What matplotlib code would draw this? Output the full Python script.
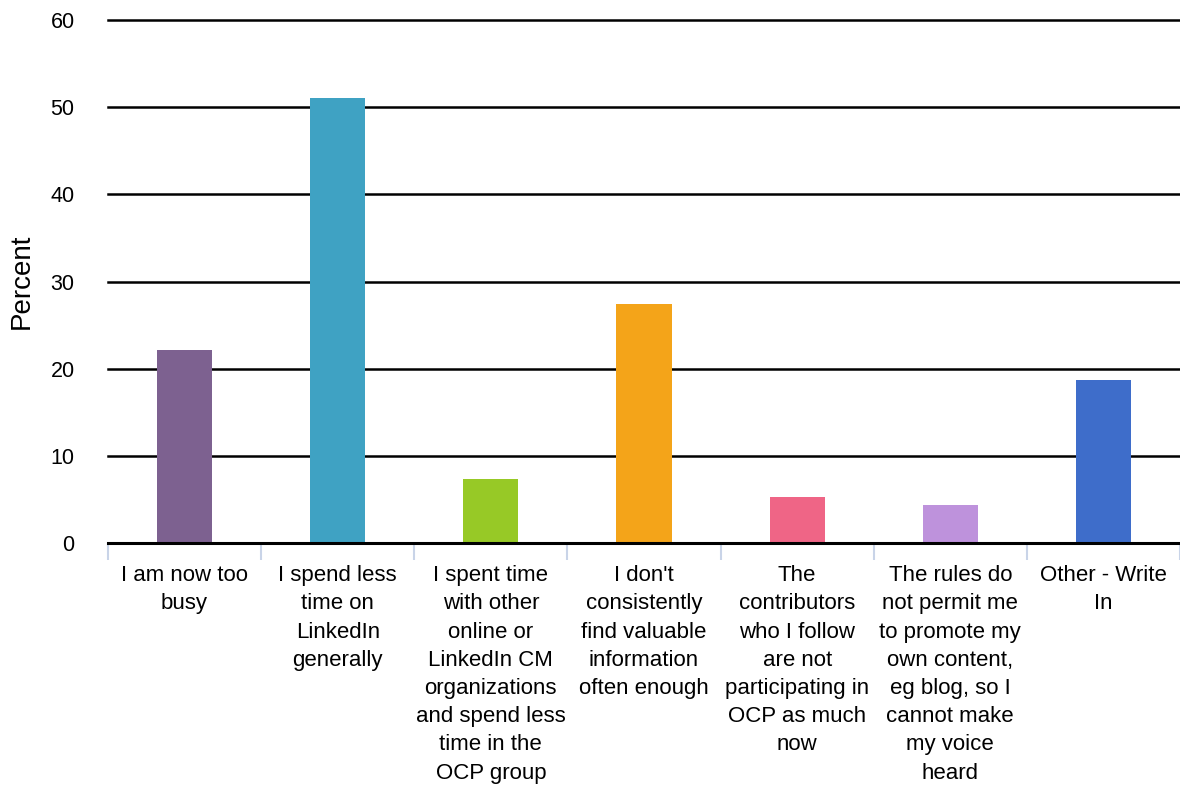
import numpy as np
import matplotlib.pyplot as plt

plt.rcParams['font.family'] = ['Liberation Sans', 'DejaVu Sans']

# Survey responses
categories = [
    "I am now too\nbusy",
    "I spend less\ntime on\nLinkedIn\ngenerally",
    "I spent time\nwith other\nonline or\nLinkedIn CM\norganizations\nand spend less\ntime in the\nOCP group",
    "I don't\nconsistently\nfind valuable\ninformation\noften enough",
    "The\ncontributors\nwho I follow\nare not\nparticipating in\nOCP as much\nnow",
    "The rules do\nnot permit me\nto promote my\nown content,\neg blog, so I\ncannot make\nmy voice\nheard",
    "Other - Write\nIn",
]
percent = [22.2, 51.0, 7.4, 27.4, 5.3, 4.4, 18.7]
colors = ['#7d6190', '#3fa2c3', '#97c926', '#f4a419', '#ef6586', '#be92dc', '#3e6dca']

fig = plt.figure(figsize=(11.8, 7.87), dpi=100)
ax = fig.add_axes([0.0915, 0.31, 0.9085, 0.6646])

x = np.arange(len(categories))
ax.bar(x, percent, width=0.36, color=colors, zorder=3)

ax.set_xlim(-0.5, len(categories) - 0.5)
ax.set_ylim(0, 60)
ax.set_yticks(range(0, 61, 10))
ax.yaxis.grid(True, color='black', linewidth=1.8, zorder=1)
ax.set_axisbelow(True)
for line in ax.yaxis.get_gridlines():
    line.set_clip_on(False)

for side in ['top', 'right', 'left']:
    ax.spines[side].set_visible(False)
ax.spines['bottom'].set_linewidth(2.2)
ax.spines['bottom'].set_zorder(4)

ax.set_xticks(x)
ax.set_xticklabels(categories, fontsize=16, linespacing=1.45, va='top')
ax.set_xticks(np.arange(-0.5, len(categories), 1), minor=True)
ax.tick_params(axis='x', which='major', length=0, pad=16)
ax.tick_params(axis='x', which='minor', length=12.5, width=1.5, color='#c9d4e8')
ax.tick_params(axis='y', length=0, pad=24, labelsize=15.5)

ax.set_ylabel('Percent', fontsize=20, labelpad=11)

fig.savefig('out.png', dpi=100)
